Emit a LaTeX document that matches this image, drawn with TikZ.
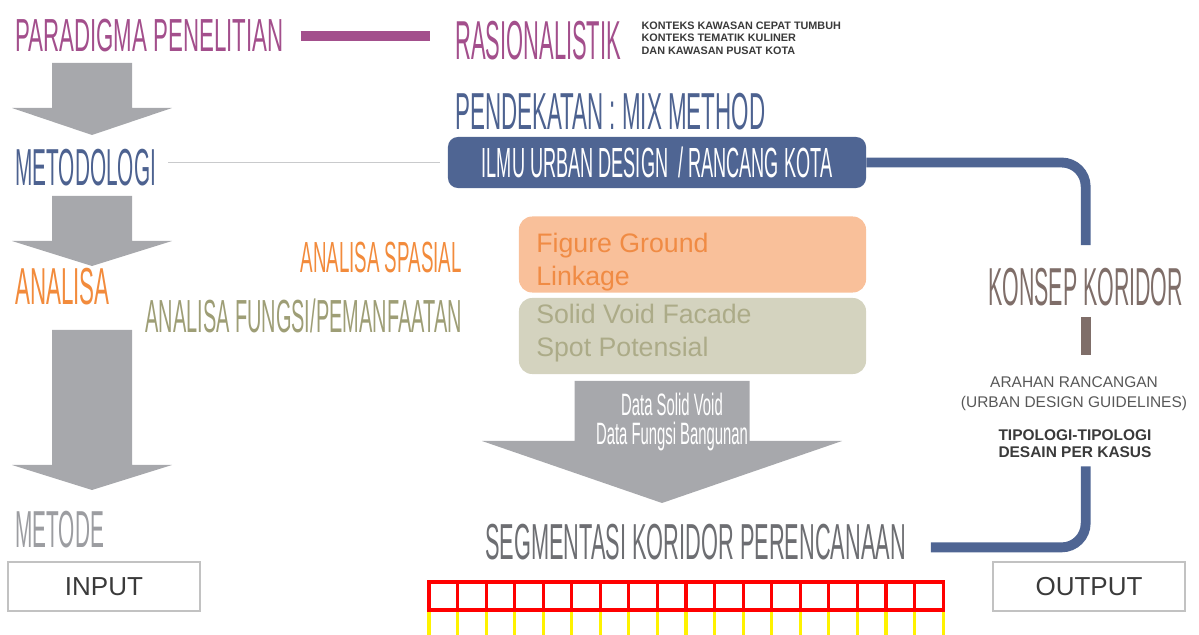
\documentclass[tikz,border=0pt]{standalone}
\usepackage{fontspec}
\setmainfont{Liberation Sans}
\newfontfamily\condfont[FakeStretch=0.4]{Liberation Sans}
\newfontfamily\condmidfont[FakeStretch=0.43]{Liberation Sans}
\newfontfamily\condwidefont[FakeStretch=0.48]{Liberation Sans}
\usepackage{tikz}
\usetikzlibrary{positioning}
\usetikzlibrary{calc}

\definecolor{paradigmpurple}{HTML}{A34F8C}
\definecolor{methodblue}{HTML}{4D6290}
\definecolor{ilmublue}{HTML}{4F6593}
\definecolor{analisaorange}{HTML}{F28B3C}
\definecolor{fungsiolive}{HTML}{9E9E76}
\definecolor{metodegray}{HTML}{9C9DA1}
\definecolor{segmentgray}{HTML}{6D6E72}
\definecolor{konsepbrown}{HTML}{7F6E69}
\definecolor{arrowgray}{HTML}{A7A8AC}
\definecolor{figfill}{HTML}{F9C09A}
\definecolor{figtext}{HTML}{F08B44}
\definecolor{solidfill}{HTML}{D4D3BF}
\definecolor{solidtext}{HTML}{ACAB88}
\definecolor{linegray}{HTML}{C9CACC}
\definecolor{framegray}{HTML}{C2C2C2}
\definecolor{darktext}{HTML}{3A3A3A}

\newcommand{\blockarrow}[6]{%
  \fill[arrowgray] (#1-#5,#2) -- (#1+#5,#2) -- (#1+#5,#3) -- (#1+#6,#3)
    -- (#1,#4) -- (#1-#6,#3) -- (#1-#5,#3) -- cycle;}

\tikzset{
  title/.style={font=\condfont\fontsize{#1}{#1}\selectfont, inner sep=0pt},
  midtitle/.style={font=\condmidfont\fontsize{#1}{#1}\selectfont, inner sep=0pt},
  widetitle/.style={font=\condwidefont\fontsize{#1}{#1}\selectfont, inner sep=0pt},
  ioframe/.style={draw=framegray, line width=0.8pt, minimum width=4.8cm,
    minimum height=1.225cm, text=darktext, font=\fontsize{18.5}{20}\selectfont},
  analysisbox/.style={rounded corners=0.33cm, minimum width=8.675cm, minimum height=1.9cm},
  boxtext/.style={inner sep=0pt, align=left, font=\fontsize{19}{23.5}\selectfont},
  link/.style={draw=ilmublue, line width=7pt},
  redcell/.style={draw=red, line width=2.2pt},
  yellowcell/.style={draw=yellow, line width=2.2pt}
}

\begin{document}
\begin{tikzpicture}[x=0.025cm, y=-0.025cm]
  \useasboundingbox (0,0) rectangle (1199,635);

  \blockarrow{92}{63}{108}{135}{40}{80}
  \blockarrow{92}{196}{241}{266}{40}{80}
  \blockarrow{92}{330}{465}{490}{40}{80}
  \blockarrow{662}{381}{441}{503}{87.5}{180}

  \node (paradigma)  [widetitle=33, text=paradigmpurple, anchor=base west] at (15,52) {PARADIGMA PENELITIAN};
  \node (rasional)   [title=39, text=paradigmpurple, anchor=base west] at (455,60)  {RASIONALISTIK};
  \node (konteks)    [right=0.5cm of rasional.north east, anchor=north west, inner sep=0pt,
                      align=left, text=darktext, font=\bfseries\fontsize{7.7}{8.9}\selectfont]
                     {KONTEKS KAWASAN CEPAT TUMBUH\\KONTEKS TEMATIK KULINER\\DAN KAWASAN PUSAT KOTA};
  \node (pendekatan) [midtitle=37, text=methodblue, anchor=base west]  at (455,130) {PENDEKATAN : MIX METHOD};
  \node (ilmu)       [fill=ilmublue, rounded corners=0.25cm, minimum width=10.45cm, minimum height=1.275cm,
                      text=white, font=\condmidfont\fontsize{30}{30}\selectfont]
                     at (657,162.5) {ILMU URBAN DESIGN\ \ / RANCANG KOTA};
  \node (metodologi) [title=37, text=methodblue, anchor=base west]     at (15,186)  {METODOLOGI};
  \node (analisa)    [midtitle=37, text=analisaorange, anchor=base west] at (15,305) {ANALISA};
  \node (spasial)    [midtitle=31, text=analisaorange, anchor=base east] at (462,273) {ANALISA SPASIAL};
  \node (fungsi)     [midtitle=33, text=fungsiolive, anchor=base east] at (462,333) {ANALISA FUNGSI/PEMANFAATAN};
  \node (metode)     [title=37, text=metodegray, anchor=base west]     at (15,548)  {METODE};
  \node (input)      [ioframe] at (104,586.5)  {INPUT};
  \node (output)     [ioframe] at (1089,586.5) {OUTPUT};

  \node (figure)     [analysisbox, fill=figfill]   at (692.5,254.5) {};
  \node (figuretext) [boxtext, text=figtext, anchor=north west]   at (536,233) {Figure Ground\\Linkage};
  \node (solid)      [analysisbox, fill=solidfill] at (692.5,336)   {};
  \node (solidtext)  [boxtext, text=solidtext, anchor=north west] at (536,304) {Solid Void Facade\\Spot Potensial};

  \node (dataarrow)  [inner sep=0pt, align=center, text=white, font=\condwidefont\fontsize{22}{20}\selectfont]
                     at (672,422) {Data Solid Void\\Data Fungsi Bangunan};
  \node (segmentasi) [midtitle=36, text=segmentgray, anchor=base west] at (485,560) {SEGMENTASI KORIDOR PERENCANAAN};

  \node (konsep)     [title=38, text=konsepbrown, anchor=base west]    at (988,306) {KONSEP KORIDOR};
  \node (arahan)     [inner sep=0pt, align=center, text=darktext!85, font=\fontsize{11}{14}\selectfont]
                     at (1074,394) {ARAHAN RANCANGAN\\(URBAN DESIGN GUIDELINES)};
  \node (tipologi)   [inner sep=0pt, align=center, text=darktext, font=\bfseries\fontsize{11}{12.2}\selectfont]
                     at (1075,444) {TIPOLOGI-TIPOLOGI\\DESAIN PER KASUS};

  \draw[paradigmpurple, line width=7.5pt, shorten <=0.42cm, shorten >=0.62cm]
    (paradigma.east) -- (paradigma.east -| rasional.west);
  \draw[linegray, line width=1pt, shorten <=0.3cm, shorten >=0.2cm]
    (metodologi.east |- ilmu.west) -- (ilmu.west);
  \draw[link, rounded corners=0.6cm, shorten >=0.58cm] (ilmu.east) -| (konsep.north);
  \draw[konsepbrown, line width=7pt, shorten <=0.25cm, shorten >=0.55cm]
    (konsep.south) -- (konsep.south |- arahan.north);
  \draw[link, rounded corners=0.6cm, shorten <=0.62cm, shorten >=0.2cm]
    ([yshift=-0.12cm]segmentasi.east) -| (tipologi.south -| konsep.south);

  \foreach \i in {0,...,18}
    \draw[yellowcell] (429+\i*28.56,610) -- (429+\i*28.56,635);
  \foreach \i in {0,...,17}
    \draw[redcell] (429+\i*28.56,582) rectangle ++(28.56,28);
\end{tikzpicture}
\end{document}
